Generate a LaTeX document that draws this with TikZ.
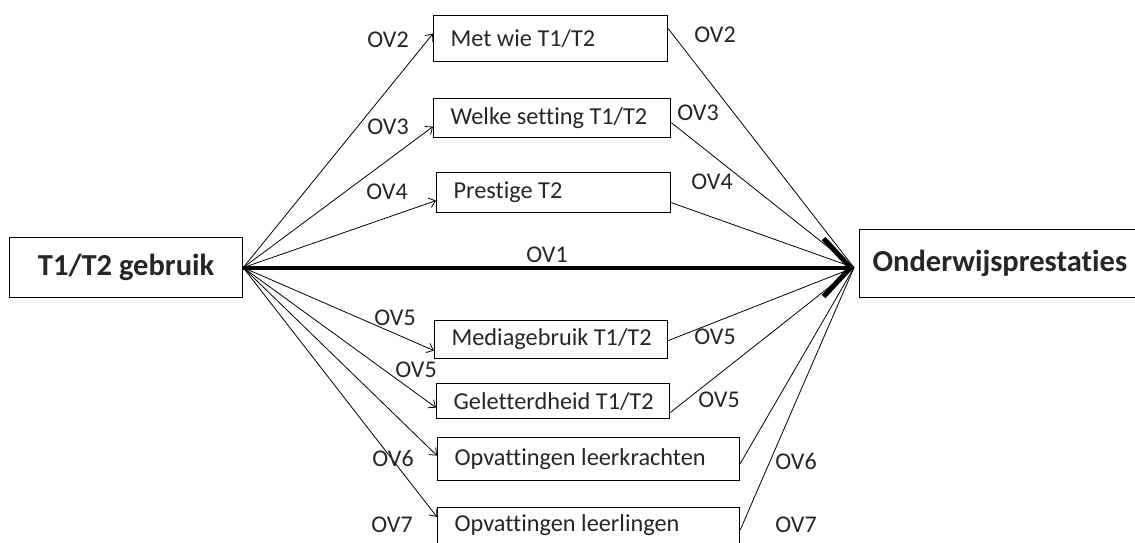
\documentclass[tikz,border=0pt]{standalone}
\usepackage{fontspec}
\setmainfont{Carlito}[Ligatures={NoCommon,NoContextual}]
\usetikzlibrary{arrows.meta}
\newcommand{\smallfs}{\fontsize{24.3}{28}\selectfont}
\newcommand{\bigfs}{\fontsize{30.5}{36}\selectfont\bfseries}
\newcommand{\lt}[2]{\makebox[#1][l]{#2}}
\definecolor{txt}{HTML}{262626}
\begin{document}
\begin{tikzpicture}[x=1pt,y=-1pt,
  mbox/.style={draw, line width=1.2pt, inner xsep=17pt, inner ysep=0pt,
    anchor=north west, font=\smallfs, text=txt},
  endbox/.style={draw, line width=1.2pt, inner ysep=0pt, font=\bigfs, text=txt},
  lab/.style={font=\fontsize{24}{28}\selectfont, text=txt, inner sep=0pt},
  thinarrow/.style={line width=0.8pt, -{Straight Barb[length=6pt,width=10pt]}},
  thinline/.style={line width=0.8pt},
  mainarrow/.style={line width=4pt, -{Straight Barb[length=27pt,width=58pt,line width=5pt]}}]
\useasboundingbox (0,0) rectangle (1135,543);
\fill[white] (0,0) rectangle (1135,543);
\clip (0,0) rectangle (1135,543);

% end boxes
\node[endbox, minimum width=233pt, minimum height=60pt, anchor=north west] (src) at (9,237) {T1/T2 gebruik};
\node[endbox, minimum height=68pt, inner xsep=13pt, anchor=north west] (tgt) at (859,229) {\lt{270pt}{Onderwijsprestaties}};

% middle boxes
\node[mbox, minimum height=46pt] (b1) at (433,15) {\lt{200pt}{Met wie T1/T2}};
\node[mbox, minimum height=39pt] (b2) at (433,98) {\lt{203pt}{Welke setting T1/T2}};
\node[mbox, minimum height=40pt] (b3) at (436,172) {\lt{200pt}{Prestige T2}};
\node[mbox, minimum height=38pt] (b4) at (434,320) {\lt{199pt}{Mediagebruik T1/T2}};
\node[mbox, minimum height=35pt] (b5) at (436,383) {\lt{199pt}{Geletterdheid T1/T2}};
\node[mbox, minimum height=43pt] (b6) at (437,437) {\lt{268pt}{Opvattingen leerkrachten}};
\node[mbox, text height=23.5pt, text depth=22pt] (b7) at (437,507) {\lt{268pt}{Opvattingen leerlingen}};

\coordinate (tip) at ([xshift=-5pt,yshift=-4pt]tgt.west);

% main effect
\draw[mainarrow] (src.east) -- (tip);

% left arrows
\draw[thinarrow] (src.east) -- ([yshift=5pt]b1.west);
\draw[thinarrow] (src.east) -- ([yshift=-8.5pt]b2.west);
\draw[thinarrow] (src.east) -- ([yshift=-8pt]b3.west);
\draw[thinarrow] (src.east) -- ([yshift=-11pt]b4.west);
\draw[thinarrow] (src.east) -- ([yshift=-6.5pt]b5.west);
\draw[thinarrow] (src.east) -- ([yshift=3.5pt]b6.west);
\draw[thinarrow] (src.east) -- ([yshift=-10pt]b7.north west);

% right lines
\draw[thinline] ([yshift=10pt]b1.east) -- (tip);
\draw[thinline] ([yshift=-4.5pt]b2.east) -- (tip);
\draw[thinline] ([yshift=-10pt]b3.east) -- (tip);
\draw[thinline] ([yshift=-1pt]b4.east) -- (tip);
\draw[thinline] ([yshift=-11.5pt]b5.east) -- (tip);
\draw[thinline] ([yshift=-4.5pt]b6.east) -- (tip);
\draw[thinline] ([yshift=-23pt]b7.north east) -- (tip);

% labels
\node[lab] (l1) at (547,255) {OV1};
\node[lab] (l2a) at (388,40) {OV2};
\node[lab] (l3a) at (388,127) {OV3};
\node[lab] (l4a) at (387,192) {OV4};
\node[lab] (l5a) at (395,318) {OV5};
\node[lab] (l5b) at (416,370) {OV5};
\node[lab] (l6a) at (393,458) {OV6};
\node[lab] (l7a) at (392,525) {OV7};
\node[lab] (l2b) at (715,35) {OV2};
\node[lab] (l3b) at (698,113) {OV3};
\node[lab] (l4b) at (712,182) {OV4};
\node[lab] (l5c) at (715,337) {OV5};
\node[lab] (l5d) at (719,400) {OV5};
\node[lab] (l6b) at (796,461) {OV6};
\node[lab] (l7b) at (796,525) {OV7};
\end{tikzpicture}
\end{document}
